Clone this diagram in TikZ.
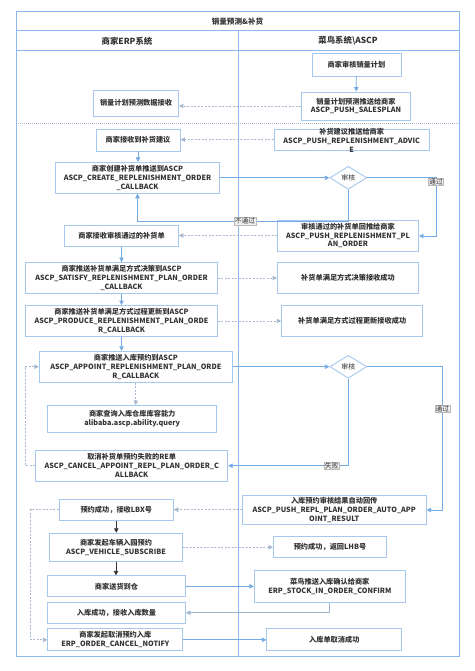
\documentclass[tikz,border=0pt]{standalone}
\usepackage{fontspec}
\setmainfont{Noto Sans CJK SC}
\usetikzlibrary{arrows.meta,shapes.geometric}
\definecolor{framec}{HTML}{8CB8EE}
\definecolor{boxc}{HTML}{A6C8EE}
\definecolor{arrc}{HTML}{74AAE6}
\definecolor{arr2c}{HTML}{9DB6D6}
\definecolor{dashc}{HTML}{A8B8CE}
\definecolor{txtc}{HTML}{333333}
\tikzset{
  box/.style={draw=boxc, line width=0.9pt, fill=white, inner sep=0pt},
  txt/.style={text=txtc, font=\fontsize{7.2}{8.9}\selectfont\bfseries, align=center, inner sep=0pt},
  tip/.style={-{Triangle[length=4.5pt,width=4.5pt]}},
  arr/.style={draw=arrc, line width=0.8pt, tip},
  arrg/.style={draw=arr2c, line width=0.8pt, tip},
  darr/.style={draw=dashc, line width=0.8pt, dash pattern=on 2pt off 1.5pt, tip},
  karr/.style={draw=txtc, line width=0.8pt, tip},
  dia/.style={diamond, draw=boxc, line width=0.9pt, fill=white, minimum width=37pt, minimum height=23pt, inner sep=0pt, text=txtc, font=\fontsize{7}{8}\selectfont},
  lab/.style={fill=gray!12, draw=gray!55, line width=0.3pt, inner sep=0.6pt, text=txtc, font=\fontsize{6.8}{7.5}\selectfont},
  head/.style={text=txtc, font=\fontsize{8.4}{10}\selectfont\bfseries, inner sep=0pt},
}
\newcommand\bx[5]{\node[box,minimum width=#3pt,minimum height=#4pt] (#1) at (#2) {};\node[txt] (#1-t) at (#1.center) {#5};}
\begin{document}
\begin{tikzpicture}[x=1pt,y=-1pt]
\useasboundingbox (0,0) rectangle (474,671);
% frame
\draw[framec, line width=1pt] (16,12) rectangle (459,656);
\draw[framec, line width=1pt] (16,31) -- (459,31);
\draw[framec, line width=1pt] (16,51) -- (459,51);
\draw[framec, line width=1pt] (238,31) -- (238,656);
\draw[dashc, line width=0.8pt, dash pattern=on 1pt off 1pt] (16,123) -- (459,123);
\node[head, font=\fontsize{7.6}{9}\selectfont\bfseries] (title) at (237.5,21.5) {销量预测\&补货};
\node[head] (h1) at (127,41) {商家ERP系统};
\node[head] (h2) at (348,41) {菜鸟系统\textbackslash ASCP};
% boxes
\bx{plan}{356.5,64.5}{89}{23}{商家审核销量计划}
\bx{splan}{356,106}{109}{28}{销量计划预测推送给商家\\ASCP\_PUSH\_SALESPLAN}
\bx{srecv}{136,103}{85}{26}{销量计划预测数据接收}
\bx{advice}{351.7,139.7}{155}{21}{}
\node[txt] (advice-t) at (351.7,140.3) {补货建议推送给商家\\ASCP\_PUSH\_REPLENISHMENT\_ADVIC\\E};
\bx{arecv}{138,140}{84}{22}{商家接收到补货建议}
\bx{create}{137.5,177.8}{164}{31}{商家创建补货单推送到ASCP\\ASCP\_CREATE\_REPLENISHMENT\_ORDER\\\_CALLBACK}
\node[dia] (d1) at (348.3,177.8) {审核};
\bx{porder}{348,235.5}{141}{31}{审核通过的补货单回推给商家\\ASCP\_PUSH\_REPLENISHMENT\_PL\\AN\_ORDER}
\bx{apass}{121.5,235.7}{114}{21}{商家接收审核通过的补货单}
\bx{satisfy}{121.5,278}{192}{31}{商家推送补货单满足方式决策到ASCP\\ASCP\_SATISFY\_REPLENISHMENT\_PLAN\_ORDER\\\_CALLBACK}
\bx{satok}{348,278}{141}{31}{补货单满足方式决策接收成功}
\bx{produce}{121.5,321}{192}{31}{商家推送补货单满足方式过程更新到ASCP\\ASCP\_PRODUCE\_REPLENISHMENT\_PLAN\_ORDE\\R\_CALLBACK}
\bx{prodok}{352.2,321}{141}{31}{补货单满足方式过程更新接收成功}
\bx{appoint}{135.8,366.7}{193}{31}{商家推送入库预约到ASCP\\ASCP\_APPOINT\_REPLENISHMENT\_PLAN\_ORDE\\R\_CALLBACK}
\node[dia] (d2) at (348.3,366.7) {审核};
\bx{query}{132.2,419}{169}{27}{商家查询入库仓库库容能力\\alibaba.ascp.ability.query}
\bx{cancel}{131.7,465.7}{192}{31}{取消补货单预约失败的RE单\\ASCP\_CANCEL\_APPOINT\_REPL\_PLAN\_ORDER\_C\\ALLBACK}
\bx{auto}{334.2,509.7}{184}{29}{入库预约审核结果自动回传\\ASCP\_PUSH\_REPL\_PLAN\_ORDER\_AUTO\_APP\\OINT\_RESULT}
\bx{lbx}{116.3,509.7}{114}{21}{预约成功，接收LBX号}
\bx{vehicle}{116,547.2}{133}{28}{商家发起车辆入园预约\\ASCP\_VEHICLE\_SUBSCRIBE}
\bx{lhb}{330,546.7}{113}{21}{预约成功，返回LHB号}
\bx{deliver}{116.5,586.3}{138}{21}{商家送货到仓}
\bx{confirm}{329.8,586.2}{151}{32}{菜鸟推送入库确认给商家\\ERP\_STOCK\_IN\_ORDER\_CONFIRM}
\bx{stockok}{116.5,612.8}{138}{21}{入库成功，接收入库数量}
\bx{cnotify}{115.3,639.8}{135}{22}{商家发起取消预约入库\\ERP\_ORDER\_CANCEL\_NOTIFY}
\bx{cancelok}{334.3,639.8}{135}{22}{入库单取消成功}
% connectors
\draw[arr] (plan) -- (splan);
\draw[darr] (splan.west) -- (srecv.east |- splan.west);
\draw[darr] (advice.west) -- (arecv.east |- advice.west);
\draw[arr] (arecv.south) -- (arecv.south |- create.north);
\draw[arr] (create.east) -- (d1.west);
\draw[arr] (d1.east) -| node[lab,pos=0.535]{通过} (436,236) -- (porder.east |- 436,236);
\draw[arr] (d1.south) -- ++(0,31.5) -| node[lab,pos=0.245]{不通过} (create.south);
\draw[darr] (porder.west) -- (apass.east |- porder.west);
\draw[arr] (apass.south) -- (apass.south |- satisfy.north);
\draw[darr] (satisfy.east) -- (satok.west |- satisfy.east);
\draw[arr] (satisfy.south) -- (satisfy.south |- produce.north);
\draw[darr] (produce.east) -- (prodok.west |- produce.east);
\draw[arr] (produce.south) -- (produce.south |- appoint.north);
\draw[arr] (appoint.east) -- (d2.west);
\draw[arr] (d2.east) -| node[lab,pos=0.647]{通过} (442.3,510) -- (auto.east |- 442.3,510);
\draw[arr] (d2.south) |- node[lab,pos=0.569]{失败} (cancel.east);
\draw[darr] (appoint.south) -- (appoint.south |- query.north);
\draw[darr] (cancel.west) -- ++(-9.7,0) |- (appoint.west);
\draw[darr] (auto.west) -- (lbx.east |- auto.west);
\draw[karr] (lbx.south) -- (lbx.south |- vehicle.north);
\draw[darr] (vehicle.east) -- (lhb.west |- vehicle.east);
\draw[karr] (vehicle.south) -- (vehicle.south |- deliver.north);
\draw[darr] (lbx.west) -- ++(-28.3,0) |- (cnotify.west);
\draw[arr] (deliver.east) -- (confirm.west |- deliver.east);
\draw[arrg] (confirm.south) |- (stockok.east);
\draw[arr] (cnotify.east) -- (cancelok.west |- cnotify.east);
\end{tikzpicture}
\end{document}
